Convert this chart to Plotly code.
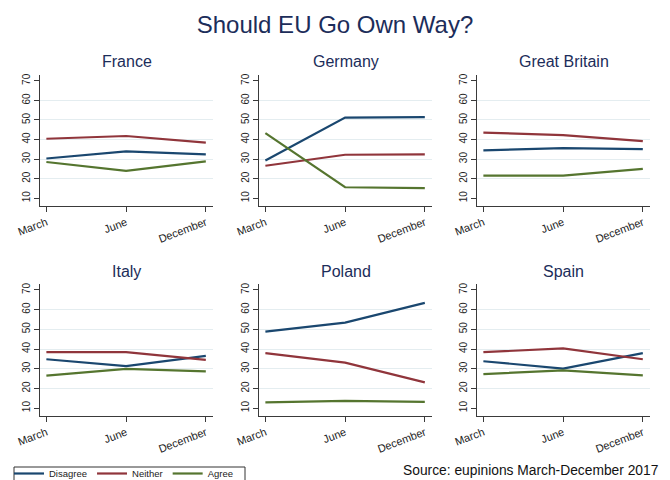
import plotly.graph_objects as go
from plotly.subplots import make_subplots

# Survey waves
months = ["March", "June", "December"]
countries = ["France", "Germany", "Great Britain", "Italy", "Poland", "Spain"]

# Share of respondents (%) per answer, one list per country, March/June/December
disagree = {
    "France": [30.3, 33.9, 32.4],
    "Germany": [29.3, 51.2, 51.5],
    "Great Britain": [34.5, 35.6, 35.1],
    "Italy": [34.8, 31.3, 36.5],
    "Poland": [48.8, 53.4, 63.4],
    "Spain": [33.8, 30.1, 37.9],
}
neither = {
    "France": [40.4, 41.8, 38.4],
    "Germany": [26.6, 32.2, 32.4],
    "Great Britain": [43.5, 42.3, 39.2],
    "Italy": [38.4, 38.4, 34.5],
    "Poland": [37.9, 33.1, 23.1],
    "Spain": [38.4, 40.3, 34.8],
}
agree = {
    "France": [28.5, 24.0, 28.8],
    "Germany": [43.3, 15.6, 15.1],
    "Great Britain": [21.5, 21.5, 25.0],
    "Italy": [26.5, 29.9, 28.7],
    "Poland": [12.9, 13.7, 13.2],
    "Spain": [27.3, 29.2, 26.6],
}

series = [
    ("Disagree", disagree, "#1a476f"),
    ("Neither", neither, "#90353b"),
    ("Agree", agree, "#55752f"),
]

W, H = 670, 480
title_color = "#1c2d5a"
axis_color = "#3a3a3a"
font_family = "Liberation Sans, Arial, sans-serif"

# Panel boxes in pixels: (left, right) per column, (top, bottom) per row
col_px = [(40, 213), (259, 432), (477, 650)]
row_px = [(75, 206), (284, 416)]

fig = make_subplots(rows=2, cols=3)

for i, country in enumerate(countries):
    r, c = divmod(i, 3)
    for name, data, color in series:
        fig.add_trace(
            go.Scatter(
                x=months,
                y=data[country],
                mode="lines",
                name=name,
                line=dict(color=color, width=2.2),
                showlegend=(i == 0),
                legendgroup=name,
            ),
            row=r + 1,
            col=c + 1,
        )

annotations = []
for i, country in enumerate(countries):
    r, c = divmod(i, 3)
    idx = "" if i == 0 else str(i + 1)
    x0, x1 = col_px[c]
    y0, y1 = row_px[r]
    fig.layout["xaxis" + idx].update(
        domain=[x0 / W, x1 / W],
        range=[-0.08, 2.09],
        showline=True,
        linecolor=axis_color,
        linewidth=1,
        ticks="outside",
        ticklen=5,
        tickcolor=axis_color,
        tickangle=-21,
        tickfont=dict(size=11, color="#222222", family=font_family),
        showgrid=False,
        zeroline=False,
        fixedrange=True,
        automargin=False,
    )
    fig.layout["yaxis" + idx].update(
        domain=[1 - y1 / H, 1 - y0 / H],
        range=[6, 73],
        tickvals=[10, 20, 30, 40, 50, 60, 70],
        showline=True,
        linecolor=axis_color,
        linewidth=1,
        ticks="outside",
        ticklen=5,
        tickcolor=axis_color,
        tickangle=-90,
        tickfont=dict(size=10, color="#222222", family=font_family),
        showgrid=False,
        minor=dict(
            tickvals=[20, 30, 40, 50, 60],
            showgrid=True,
            gridcolor="#e4edf0",
            gridwidth=1,
            ticklen=0,
        ),
        zeroline=False,
        fixedrange=True,
        automargin=False,
    )
    annotations.append(
        dict(
            text=country,
            x=(x0 + x1) / 2 / W,
            y=1 - (y0 - 13) / H,
            xref="paper",
            yref="paper",
            xanchor="center",
            yanchor="middle",
            showarrow=False,
            font=dict(size=16, color=title_color, family=font_family),
        )
    )

annotations.append(
    dict(
        text="Source: eupinions March-December 2017",
        x=660 / W,
        y=1 - 470 / H,
        xref="paper",
        yref="paper",
        xanchor="right",
        yanchor="middle",
        showarrow=False,
        font=dict(size=13.8, color="#111111", family=font_family),
    )
)

# Frame around the legend, running off the bottom edge
legend_frame = dict(
    type="rect",
    xref="paper",
    yref="paper",
    x0=14 / W,
    x1=245 / W,
    y0=-20 / H,
    y1=1 - 467 / H,
    line=dict(color="#333333", width=1),
    fillcolor="rgba(0,0,0,0)",
    layer="above",
)

fig.update_layout(
    width=W,
    height=H,
    margin=dict(l=0, r=0, t=0, b=0, autoexpand=False),
    paper_bgcolor="white",
    plot_bgcolor="white",
    font=dict(family=font_family),
    title=dict(
        text="Should EU Go Own Way?",
        x=0.5,
        xanchor="center",
        y=1 - 25 / H,
        yanchor="middle",
        font=dict(size=24, color=title_color, family=font_family),
    ),
    annotations=annotations,
    shapes=[legend_frame],
    showlegend=True,
    legend=dict(
        orientation="h",
        x=9 / W,
        xanchor="left",
        y=1 - 459 / H,
        yanchor="top",
        borderwidth=0,
        bgcolor="rgba(0,0,0,0)",
        font=dict(size=9.5, color="#222222", family=font_family),
        tracegroupgap=0,
    ),
)

fig.write_html("out.html")
